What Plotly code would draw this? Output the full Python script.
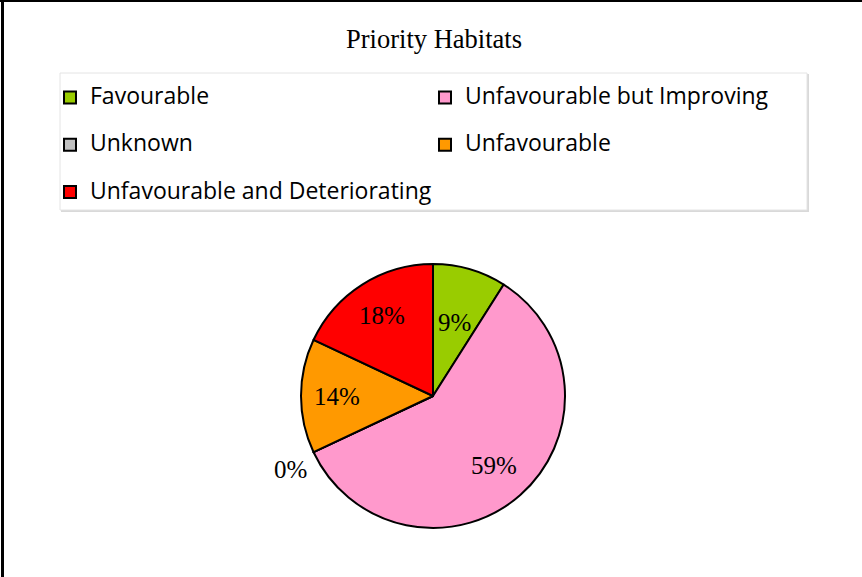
import math
import plotly.graph_objects as go

# ---- data ----
categories = ["Favourable", "Unfavourable but Improving", "Unknown",
              "Unfavourable", "Unfavourable and Deteriorating"]
values = [9, 59, 0, 14, 18]
colors = ["#99CC00", "#FF99CC", "#C0C0C0", "#FF9900", "#FF0000"]
title_text = "Priority Habitats"

# ---- layout constants (pixels) ----
W, H = 862, 577
PIE_CX, PIE_CY, PIE_R = 433, 396, 132
# radial position of each data label as a fraction of the pie radius
label_radius_frac = [0.58, 0.70, 1.04, 0.73, 0.72]


def px_x(v):
    return v / W


def px_y(v):
    return 1 - v / H


legend_labels = [f"<span style='font-size:23px'>{c}</span><br> " for c in categories]

fig = go.Figure()
fig.add_trace(go.Pie(
    labels=legend_labels,
    values=values,
    sort=False,
    direction="clockwise",
    rotation=0,
    marker=dict(colors=colors, line=dict(color="black", width=2)),
    textinfo="none",
    domain=dict(x=[px_x(PIE_CX - PIE_R), px_x(PIE_CX + PIE_R)],
                y=[px_y(PIE_CY + PIE_R), px_y(PIE_CY - PIE_R)]),
    showlegend=True,
    hoverinfo="skip",
))

# data labels placed along each slice's bisector (computed from the values)
total = sum(values)
annotations = []
cum = 0
for v, rf in zip(values, label_radius_frac):
    mid = (cum + v / 2) / total * 2 * math.pi
    cum += v
    sx, cy = math.sin(mid), math.cos(mid)
    x = PIE_CX + rf * PIE_R * sx
    y = PIE_CY - rf * PIE_R * cy
    if rf > 1:
        xa = "right" if sx < 0 else "left"
        ya = "top" if cy < 0 else "bottom"
    else:
        xa, ya = "center", "middle"
    annotations.append(dict(
        text=f"{v}%", x=px_x(x), y=px_y(y), xref="paper", yref="paper",
        xanchor=xa, yanchor=ya, showarrow=False,
        font=dict(family="Liberation Serif", size=25, color="black")))

shapes = [
    # legend shadow + box
    dict(type="rect", xref="paper", yref="paper", x0=px_x(61), x1=px_x(809),
         y0=px_y(212), y1=px_y(74), fillcolor="#d9d9d9", line=dict(width=0), layer="below"),
    dict(type="rect", xref="paper", yref="paper", x0=px_x(60), x1=px_x(807),
         y0=px_y(210), y1=px_y(73), fillcolor="white", line=dict(color="#e4e4e4", width=1), layer="below"),
    # outer border (top and left)
    dict(type="line", xref="paper", yref="paper", x0=0, x1=1, y0=px_y(1), y1=px_y(1),
         line=dict(color="black", width=2)),
    dict(type="line", xref="paper", yref="paper", x0=px_x(2.5), x1=px_x(2.5), y0=0, y1=1,
         line=dict(color="black", width=3)),
]

fig.update_layout(
    width=W, height=H,
    margin=dict(l=0, r=0, t=0, b=0),
    paper_bgcolor="white",
    plot_bgcolor="white",
    title=dict(text=title_text, x=px_x(434), y=px_y(39), xanchor="center", yanchor="middle",
               xref="paper", yref="paper",
               font=dict(family="Liberation Serif", size=26.5, color="black")),
    legend=dict(orientation="h", x=px_x(50), y=px_y(80), xanchor="left", yanchor="top",
                entrywidth=330, entrywidthmode="pixels", valign="top",
                bgcolor="rgba(0,0,0,0)", borderwidth=0,
                font=dict(family="Open Sans", size=17, color="black")),
    shapes=shapes,
    annotations=annotations,
)

fig.write_html("out.html")
